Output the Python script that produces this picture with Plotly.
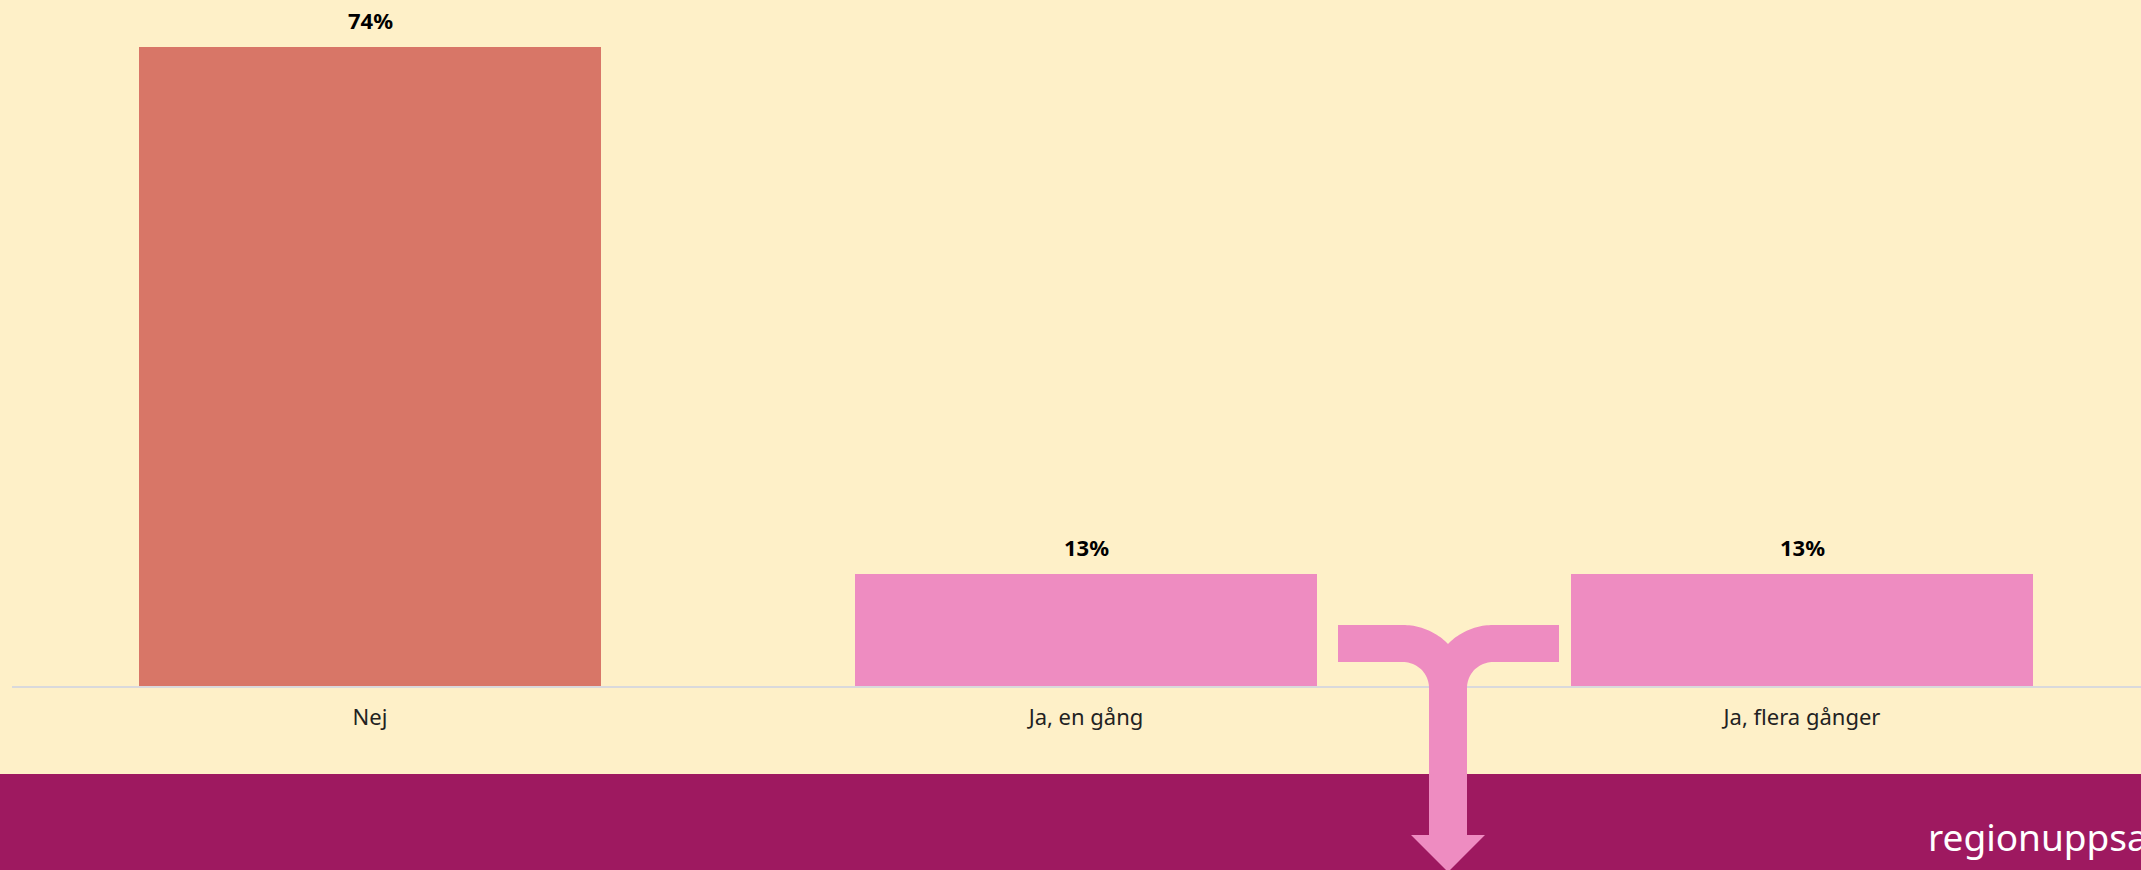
import math
import plotly.graph_objects as go

# Survey answers and shares (%)
categories = ["Nej", "Ja, en gång", "Ja, flera gånger"]
shares = [74, 13, 13]
bar_colors = ["#D87667", "#EE8CC1", "#EE8CC1"]

W, H = 2141, 870
M_L, M_R, M_T, M_B = 12, 0, 0, 184
PLOT_W = W - M_L - M_R
PLOT_H = H - M_T - M_B

BG = "#FEF0C8"
FOOTER = "#9E1960"
PINK = "#EE8CC1"
FONT = "Noto Sans"


def px(x):
    """Horizontal pixel -> paper fraction."""
    return (x - M_L) / PLOT_W


def py(y):
    """Vertical pixel -> paper fraction."""
    return (M_T + PLOT_H - y) / PLOT_H


def arc(cx, cy, r, a0, a1, n=24):
    pts = []
    for i in range(n + 1):
        a = math.radians(a0 + (a1 - a0) * i / n)
        pts.append((cx + r * math.cos(a), cy + r * math.sin(a)))
    return pts


# Decorative branching arrow leading into the footer band
pts = [(1338, 625), (1403, 625)]
pts += arc(1403, 688, 63, -90, -44.4)
pts += arc(1493, 688, 63, 224.4, 270)
pts += [(1559, 625), (1559, 662), (1493, 662)]
pts += arc(1493, 688, 26, 270, 180)
pts += [(1467, 835), (1485, 835), (1448, 872), (1411, 835), (1429, 835)]
pts += arc(1403, 688, 26, 0, -90)
pts += [(1338, 662)]
path = "M " + " L ".join(f"{px(x):.5f},{py(y):.5f}" for x, y in pts) + " Z"

fig = go.Figure(
    go.Bar(
        x=categories,
        y=shares,
        marker=dict(color=bar_colors, line=dict(width=0)),
        width=0.6466,
        hoverinfo="skip",
    )
)

# Value labels above each bar
for c, v in zip(categories, shares):
    fig.add_annotation(
        x=c, y=v, text=f"<b>{v}%</b>", showarrow=False,
        yanchor="bottom", yshift=10,
        font=dict(family=FONT, size=22, color="#000000"),
    )

fig.add_shape(
    type="rect", xref="paper", yref="paper",
    x0=px(-5), x1=px(W + 5), y0=py(774), y1=py(H + 5),
    fillcolor=FOOTER, line=dict(width=0), layer="above",
)
fig.add_shape(
    type="path", xref="paper", yref="paper", path=path,
    fillcolor=PINK, line=dict(width=0), layer="above",
)
fig.add_annotation(
    xref="paper", yref="paper", x=px(1926), y=py(836),
    xanchor="left", yanchor="middle", text="regionuppsala",
    showarrow=False, font=dict(family=FONT, size=37, color="#FFFFFF"),
)

slot = PLOT_W / 716
fig.update_layout(
    width=W, height=H,
    margin=dict(l=M_L, r=M_R, t=M_T, b=M_B, pad=0),
    paper_bgcolor=BG, plot_bgcolor=BG,
    showlegend=False,
    bargap=0,
    xaxis=dict(
        range=[-0.5, -0.5 + slot], showgrid=False, zeroline=False,
        showline=True, linecolor="#D9D9DC", linewidth=2,
        ticks="", tickfont=dict(family=FONT, size=22, color="#222222"),
        ticklabelstandoff=11, fixedrange=True,
    ),
    yaxis=dict(
        range=[0, PLOT_H / 8.638], visible=False, fixedrange=True,
    ),
)

fig.write_html("out.html")
